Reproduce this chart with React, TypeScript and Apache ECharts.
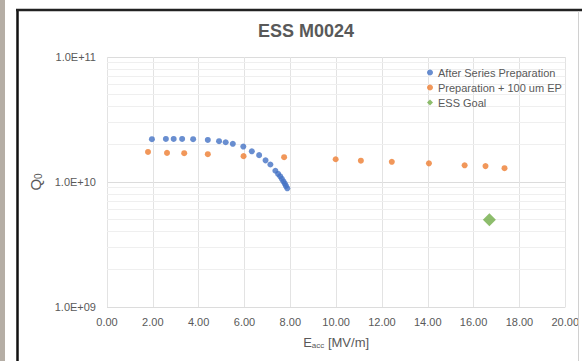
import React, { useEffect, useRef } from "react";
import * as echarts from "echarts";

const afterPrepX = [1.96, 2.57, 2.91, 3.28, 3.76, 4.40, 4.89, 5.18, 5.49, 5.95, 6.32, 6.64, 6.92, 7.13, 7.35, 7.47, 7.56, 7.63, 7.70, 7.76, 7.81, 7.87];
const afterPrepQ = [2.20e10, 2.21e10, 2.21e10, 2.21e10, 2.20e10, 2.17e10, 2.12e10, 2.08e10, 2.02e10, 1.92e10, 1.76e10, 1.64e10, 1.49e10, 1.38e10, 1.23e10, 1.16e10, 1.11e10, 1.06e10, 1.01e10, 9.7e9, 9.3e9, 8.9e9];

const epX = [1.79, 2.62, 3.37, 4.40, 5.96, 7.73, 9.98, 11.08, 12.43, 14.05, 15.61, 16.52, 17.35];
const epQ = [1.74e10, 1.71e10, 1.70e10, 1.67e10, 1.61e10, 1.58e10, 1.52e10, 1.48e10, 1.45e10, 1.41e10, 1.36e10, 1.34e10, 1.29e10];

const goalX = [16.69];
const goalQ = [5.0e9];

const minorGridQ = [2e9, 3e9, 4e9, 5e9, 6e9, 7e9, 8e9, 9e9, 2e10, 3e10, 4e10, 5e10, 6e10, 7e10, 8e10, 9e10];

const seriesNames = ["After Series Preparation", "Preparation + 100 um EP", "ESS Goal"];
const titleText = "ESS M0024";

const FONT = "Liberation Sans, Arial, sans-serif";
const GRAY = "#595959";

export default function App() {
  const ref = useRef<HTMLDivElement>(null);
  useEffect(() => {
    if (!ref.current) return;
    const chart = echarts.init(ref.current, null, { renderer: "svg" });
    const zip = (xs: number[], ys: number[]) => xs.map((x, i) => [x, ys[i]]);
    chart.setOption({
      animation: false,
      backgroundColor: "#ffffff",
      textStyle: { fontFamily: FONT },
      title: {
        text: titleText,
        left: 258,
        top: 22,
        padding: 0,
        textStyle: { fontFamily: FONT, fontSize: 18, fontWeight: "bold", color: GRAY },
      },
      legend: {
        orient: "vertical",
        left: 422,
        top: 61,
        itemWidth: 6,
        itemHeight: 6,
        itemGap: 2,
        data: seriesNames,
        textStyle: { fontFamily: FONT, fontSize: 11, color: GRAY, lineHeight: 13 },
      },
      grid: { left: 107, right: 10, top: 57, bottom: 54, containLabel: false },
      xAxis: {
        type: "value",
        min: 0,
        max: 20,
        interval: 2,
        name: "{a|E}{b|acc}{a| [MV/m]}",
        nameLocation: "middle",
        nameGap: 28,
        nameTextStyle: {
          rich: {
            a: { fontFamily: FONT, fontSize: 13, color: GRAY },
            b: { fontFamily: FONT, fontSize: 8, color: GRAY, verticalAlign: "bottom", padding: [6, 0, 0, 0] },
          },
        },
        axisLine: { show: false },
        axisTick: { show: false },
        axisLabel: {
          margin: 9,
          fontFamily: FONT,
          fontSize: 11,
          color: GRAY,
          formatter: (v: number) => v.toFixed(2),
        },
        splitLine: { show: true, lineStyle: { color: "#e3e3e3", width: 1 } },
      },
      yAxis: {
        type: "log",
        logBase: 10,
        min: 1e9,
        max: 1e11,
        name: "{a|Q}{b|0}",
        nameLocation: "middle",
        nameRotate: 90,
        nameGap: 38,
        nameTextStyle: {
          rich: {
            a: { fontFamily: FONT, fontSize: 15, color: GRAY },
            b: { fontFamily: FONT, fontSize: 10, color: GRAY, verticalAlign: "bottom", padding: [6, 0, 0, 0] },
          },
        },
        axisLine: { show: false },
        axisTick: { show: false },
        axisLabel: {
          margin: 11,
          fontFamily: FONT,
          fontSize: 11,
          color: GRAY,
          formatter: (v: number) => "1.0E+" + String(Math.round(Math.log10(v))).padStart(2, "0"),
        },
        splitLine: { show: true, lineStyle: { color: "#dcdcdc", width: 1 } },
      },
      series: [
        {
          name: seriesNames[0],
          type: "scatter",
          symbol: "circle",
          symbolSize: 6,
          itemStyle: { color: "#4472C4" },
          data: zip(afterPrepX, afterPrepQ),
          z: 3,
          markLine: {
            silent: true,
            symbol: "none",
            label: { show: false },
            lineStyle: { color: "#efefef", type: "solid", width: 1 },
            data: minorGridQ.map((q) => ({ yAxis: q })),
            z: 1,
          },
        },
        {
          name: seriesNames[1],
          type: "scatter",
          symbol: "circle",
          symbolSize: 6,
          itemStyle: { color: "#ED7D31" },
          data: zip(epX, epQ),
          z: 3,
        },
        {
          name: seriesNames[2],
          type: "scatter",
          symbol: "diamond",
          symbolSize: 13,
          itemStyle: { color: "#70AD47" },
          data: zip(goalX, goalQ),
          z: 3,
        },
      ],
      graphic: [
        { type: "rect", shape: { x: 0, y: 0, width: 5, height: 361 }, style: { fill: "#b5aea5" }, z: 10 },
        { type: "line", shape: { x1: 17.5, y1: 9, x2: 17.5, y2: 361 }, style: { stroke: "#111111", lineWidth: 2.5 }, z: 10 },
        { type: "line", shape: { x1: 16, y1: 10, x2: 582, y2: 10 }, style: { stroke: "#222222", lineWidth: 2.5 }, z: 10 },
        { type: "line", shape: { x1: 578.5, y1: 11, x2: 578.5, y2: 361 }, style: { stroke: "#d0d0d0", lineWidth: 1 }, z: 10 },
      ],
    });
    return () => chart.dispose();
  }, []);
  return (
    <div
      ref={ref}
      style={{ position: "absolute", left: 0, top: 0, width: 582, height: 361 }}
    />
  );
}
